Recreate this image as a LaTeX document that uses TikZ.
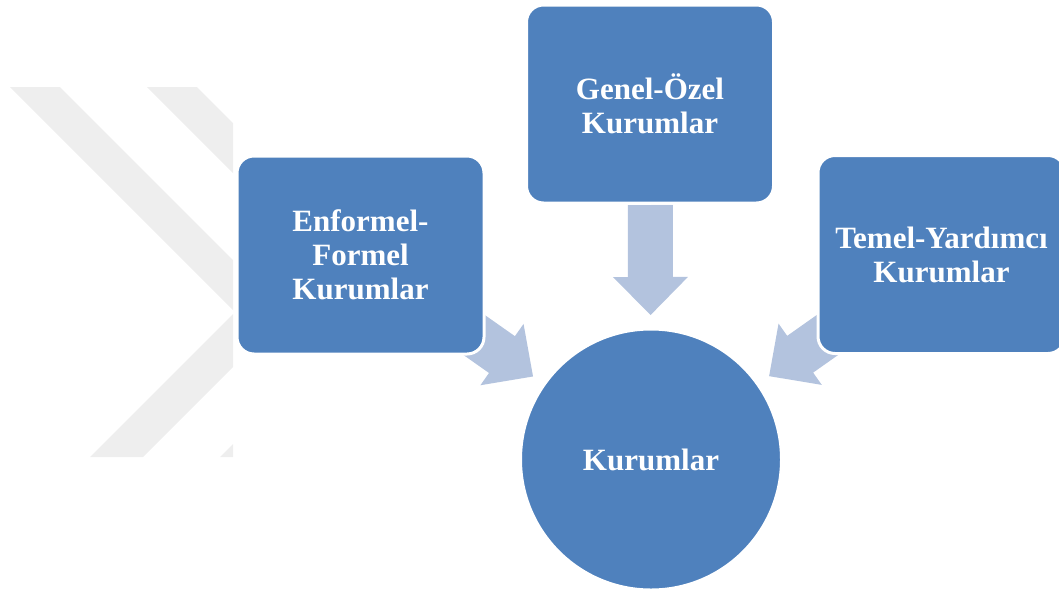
\documentclass[tikz,border=0pt]{standalone}
\usepackage{fontspec}
\setmainfont{Liberation Serif}
\usetikzlibrary{calc}
\definecolor{boxblue}{RGB}{79,129,189}
\definecolor{arrowblue}{RGB}{179,195,222}
\definecolor{markgray}{RGB}{238,238,238}
\pgfdeclarelayer{background}
\pgfsetlayers{background,main}
\begin{document}
\begin{tikzpicture}[x=1pt,y=-1pt,
  textstyle/.style={text=white,font=\fontsize{31}{34}\selectfont\bfseries,align=center},
  groupbox/.style={textstyle,draw=white,line width=3pt,fill=boxblue,rounded corners=17pt,
    minimum width=247pt,minimum height=198pt,inner sep=0pt},
  corebox/.style={textstyle,circle,draw=white,line width=3pt,fill=boxblue,
    minimum size=261pt,inner sep=0pt},
  flow/.style={fill=arrowblue}]
\useasboundingbox (0,0) rectangle (1059,592);

% group boxes and the central circle
\node[groupbox] (gen) at (650,104) {Genel-Özel\\Kurumlar};
\node[groupbox] (enf) at (360.5,255) {Enformel-\\Formel\\Kurumlar};
\node[groupbox] (tem) at (941.5,254.5) {Temel-Yardımcı\\Kurumlar};
\node[corebox] (core) at (651,459.5) {Kurumlar};

\begin{pgfonlayer}{background}
  % faint chevron marks on the left
  \begin{scope}
    \clip (0,87) rectangle (233,457);
    \fill[markgray] (10,87) -- (60,87) -- (360,387) -- (310,387) -- cycle;
    \fill[markgray] (90,457) -- (143,457) -- (443,157) -- (390,157) -- cycle;
    \fill[markgray] (147,87) -- (197,87) -- (497,387) -- (447,387) -- cycle;
    \fill[markgray] (220,457) -- (273,457) -- (573,157) -- (520,157) -- cycle;
  \end{scope}
  % block arrows from each group box towards the circle
  \foreach \b in {enf,gen,tem}{
    \path ($(\b.center)!211pt!(core.center)$) coordinate (\b-tip)
          ($(\b-tip)!38pt!(\b.center)$) coordinate (\b-head)
          ($(\b-tip)!110pt!(\b.center)$) coordinate (\b-tail);
    \fill[flow] ($(\b-tail)!22.5pt!90:(\b-tip)$)
      -- ($(\b-head)!22.5pt!90:(\b-tip)$)
      -- ($(\b-head)!37.5pt!90:(\b-tip)$)
      -- (\b-tip)
      -- ($(\b-head)!37.5pt!-90:(\b-tip)$)
      -- ($(\b-head)!22.5pt!-90:(\b-tip)$)
      -- ($(\b-tail)!22.5pt!-90:(\b-tip)$) -- cycle;
  }
\end{pgfonlayer}
\end{tikzpicture}
\end{document}
